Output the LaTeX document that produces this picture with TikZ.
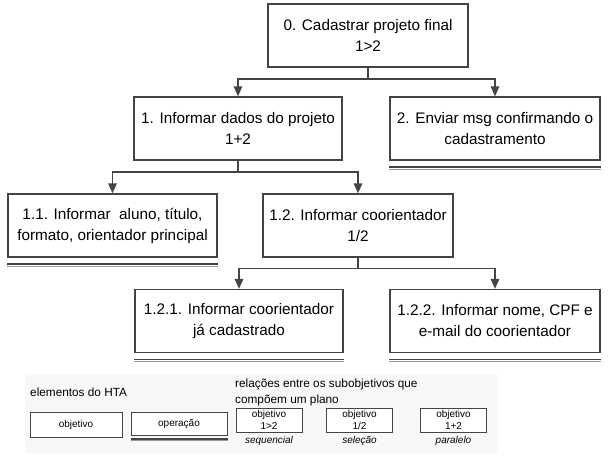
\documentclass[tikz,border=0pt]{standalone}
\usepackage{fontspec}
\setmainfont{Liberation Sans}
\usetikzlibrary{arrows.meta,calc}
\definecolor{ln}{HTML}{444444}
\definecolor{ln2}{HTML}{9A9A9A}
\definecolor{bgl}{HTML}{F8F8F8}
\tikzset{
  goal/.style={draw=ln, line width=1.3pt, fill=white, inner sep=0pt, align=center,
    font=\fontsize{15.3}{21}\selectfont},
  conn/.style={draw=ln, line width=1.3pt, -{Triangle[length=10pt,width=8.5pt]}},
  dlA/.style={draw=ln, line width=1.5pt},
  dlB/.style={draw=ln2, line width=0.9pt},
  lbox/.style={draw=ln, line width=1pt, fill=white, inner sep=0pt, align=center,
    font=\fontsize{10}{11.5}\selectfont},
  lhead/.style={anchor=base west, inner sep=0pt, align=left,
    font=\fontsize{11.8}{16}\selectfont},
  ital/.style={anchor=north, inner sep=0pt, font=\fontsize{10}{12}\selectfont\itshape}
}
\begin{document}
\begin{tikzpicture}[x=1pt,y=-1pt]
\useasboundingbox (0,0) rectangle (609,456);
% legend background
\fill[bgl] (25,374) rectangle (498,453);

% main boxes
\node[goal, minimum width=200pt, minimum height=63pt] (n0) at (368,35.5) {0. Cadastrar projeto final\\1>2};
\node[goal, minimum width=208pt, minimum height=63pt] (n1) at (238,128.5) {1. Informar dados do projeto\\1+2};
\node[goal, minimum width=210pt, minimum height=63pt] (n2) at (495,128.5) {2. Enviar msg confirmando o\\cadastramento};
\node[goal, minimum width=209pt, minimum height=63pt] (n11) at (112.5,225.5) {1.1. Informar\ \ aluno, título,\\formato, orientador principal};
\node[goal, minimum width=190pt, minimum height=63pt] (n12) at (358,225.5) {1.2. Informar coorientador\\1/2};
\node[goal, minimum width=208pt, minimum height=63pt] (n121) at (239,321) {1.2.1. Informar coorientador\\já cadastrado};
\node[goal, minimum width=210pt, minimum height=63pt] (n122) at (495,321) {1.2.2. Informar nome, CPF e\\e-mail do coorientador};

% junction levels
\coordinate (j0) at (0,79);
\coordinate (j1) at (0,172);
\coordinate (j2) at (0,268.5);

% connectors
\draw[conn] (n0.south) -- (n0.south |- j0) -| (n1.north);
\draw[conn] (n0.south) -- (n0.south |- j0) -| (n2.north);
\draw[conn] (n1.south) -- (n1.south |- j1) -| (n11.north);
\draw[conn] (n1.south) -- (n1.south |- j1) -| (n12.north);
\draw[conn] (n12.south) -- (n12.south |- j2) -| (n121.north);
\draw[conn] (n12.south) -- (n12.south |- j2) -| (n122.north);

% operation double lines
\foreach \n in {n2,n11,n121,n122}{
  \draw[dlA] ([yshift=-6.5pt]\n.south west) -- ([yshift=-6.5pt]\n.south east);
  \draw[dlB] ([yshift=-8.4pt]\n.south west) -- ([yshift=-8.4pt]\n.south east);
}

% legend: elementos do HTA
\node[lhead] (lh1) at (30,396) {elementos do HTA};
\node[lbox, minimum width=92pt, minimum height=25pt] (lobj) at (76,424.5) {objetivo};
\node[lbox, minimum width=96pt, minimum height=23pt] (lop) at (179,423.5) {operação};
\draw[draw=ln, line width=1.1pt] ([yshift=-3.5pt]lop.south west) -- ([yshift=-3.5pt]lop.south east);
\draw[draw=ln2, line width=0.7pt] ([yshift=-5pt]lop.south west) -- ([yshift=-5pt]lop.south east);

% legend: relações
\node[lhead] (lh2) at (235,403) {relações entre os subobjetivos que\\compõem um plano};
\node[lbox, minimum width=66pt, minimum height=24pt] (r1) at (269,420) {objetivo\\1>2};
\node[lbox, minimum width=66pt, minimum height=24pt] (r2) at (359.5,420) {objetivo\\1/2};
\node[lbox, minimum width=66pt, minimum height=24pt] (r3) at (453.5,420) {objetivo\\1+2};
\node[ital] (t1) at ([yshift=-3.5pt]r1.south) {sequencial};
\node[ital] (t2) at ([yshift=-3.5pt]r2.south) {seleção};
\node[ital] (t3) at ([yshift=-3.5pt]r3.south) {paralelo};
\end{tikzpicture}
\end{document}
